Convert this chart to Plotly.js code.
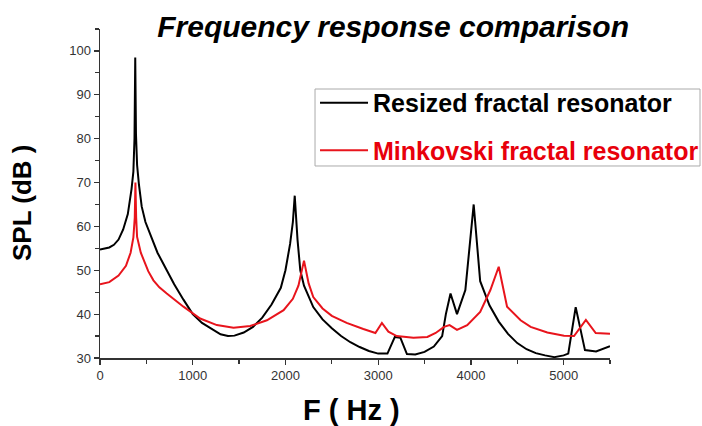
<!DOCTYPE html>
<html>
<head>
<meta charset="utf-8">
<script src="https://cdn.plot.ly/plotly-3.0.1.min.js"></script>
<style>html,body{margin:0;padding:0;background:#fff;}#chart{width:702px;height:426px;}</style>
</head>
<body>
<div id="chart"></div>
<script>
// Resized fractal resonator (black)
var resizedF = [0, 100, 150, 200, 250, 300, 340, 360, 372, 380, 388, 400, 420, 450, 490, 540, 620, 720, 800, 900, 1000, 1100, 1200, 1300, 1380, 1450, 1550, 1650, 1750, 1850, 1950, 2000, 2050, 2080, 2100, 2130, 2160, 2200, 2300, 2400, 2500, 2600, 2700, 2800, 2900, 3000, 3100, 3180, 3240, 3310, 3400, 3500, 3600, 3690, 3730, 3780, 3850, 3940, 4030, 4100, 4200, 4300, 4400, 4500, 4600, 4700, 4800, 4900, 5000, 5050, 5130, 5230, 5350, 5500];
var resizedSPL = [54.7, 55.2, 55.8, 57, 59.3, 62.8, 68.5, 72.5, 80, 98.5, 81, 74, 69.5, 64.5, 61, 58.2, 54, 50, 46.8, 43.3, 40, 38, 36.6, 35.4, 35, 35.1, 35.8, 37.1, 39.2, 42.2, 46, 50, 56, 61, 67, 57, 50, 46.5, 41.6, 38.8, 36.8, 35, 33.6, 32.5, 31.6, 31.0, 31.0, 34.8, 34.6, 30.9, 30.8, 31.4, 32.6, 35, 40, 44.7, 40, 45.5, 65, 47.5, 42, 38.3, 35.5, 33.4, 32, 31.1, 30.6, 30.2, 30.6, 31, 41.6, 31.8, 31.5, 32.7];

// Minkovski fractal resonator (red)
var minkF = [0, 100, 200, 280, 330, 360, 375, 382, 390, 400, 440, 470, 520, 576, 640, 720, 900, 1080, 1260, 1440, 1620, 1800, 1980, 2080, 2140, 2200, 2250, 2300, 2400, 2500, 2660, 2840, 2970, 3040, 3110, 3200, 3380, 3530, 3620, 3710, 3770, 3850, 3960, 4100, 4210, 4300, 4390, 4536, 4644, 4824, 5004, 5112, 5240, 5346, 5464, 5500];
var minkSPL = [46.8, 47.3, 48.8, 51, 54, 57.5, 62, 70, 62, 57.6, 54, 52.3, 49.8, 47.7, 46.1, 44.7, 41.7, 39, 37.5, 36.9, 37.3, 38.6, 40.9, 43.5, 46.5, 52.2, 47, 43.9, 41.3, 39.6, 38, 36.6, 35.7, 38, 36, 35, 34.6, 34.8, 35.7, 37.1, 37.5, 36.4, 37.5, 40.5, 45.5, 50.8, 41.7, 38.6, 37.1, 35.8, 35.1, 35, 38.7, 35.7, 35.5, 35.5];

var xTicks = [0, 1000, 2000, 3000, 4000, 5000];
var yTicks = [30, 40, 50, 60, 70, 80, 90, 100];

var FONT = "Liberation Sans, Arial, sans-serif";

var traces = [
  {x: resizedF, y: resizedSPL, type: 'scatter', mode: 'lines', name: '<b>Resized fractal resonator</b>',
   line: {color: '#000000', width: 2}, legendgroup: 'a'},
  {x: minkF, y: minkSPL, type: 'scatter', mode: 'lines', name: '<span style="color:#e8000b"><b>Minkovski fractal resonator</b></span>',
   line: {color: '#e8141c', width: 2}, legendgroup: 'b'}
];

var axisCommon = {
  showline: true, linecolor: '#333', linewidth: 1.5, ticks: 'outside', ticklen: 5, tickwidth: 1.2,
  tickcolor: '#333', showgrid: false, zeroline: false,
  tickfont: {family: FONT, size: 13, color: '#333'}
};

var layout = {
  width: 702, height: 426,
  paper_bgcolor: '#ffffff', plot_bgcolor: '#ffffff',
  margin: {l: 100, r: 92, t: 29, b: 68, autoexpand: false},
  showlegend: true,
  title: {text: 'Frequency response comparison', x: 0.56, xref: 'container', xanchor: 'center',
          y: 0.937, yref: 'container', yanchor: 'middle',
          font: {family: FONT, size: 30, color: '#000', weight: 'bold', style: 'italic'}},
  xaxis: Object.assign({}, axisCommon, {range: [0, 5500], tickvals: xTicks, ticktext: xTicks.map(String),
          minor: {dtick: 500, tick0: 0, ticks: 'outside', ticklen: 4, tickcolor: '#333'}}),
  yaxis: Object.assign({}, axisCommon, {range: [30, 105], tickvals: yTicks, ticktext: yTicks.map(String),
          minor: {dtick: 5, tick0: 30, ticks: 'outside', ticklen: 4, tickcolor: '#333'}}),
  legend: {x: 0.4216, y: 0.845, xanchor: 'left', yanchor: 'top', bgcolor: 'rgba(255,255,255,0)',
           borderwidth: 0, tracegroupgap: 12, itemwidth: 48,
           font: {family: FONT, size: 25, color: '#000'}},
  shapes: [
    {type: 'rect', xref: 'paper', yref: 'paper', x0: 0.4216, x1: 1.1765, y0: 0.5836, y1: 0.8176,
     line: {color: '#aaaaaa', width: 1}, fillcolor: 'rgba(0,0,0,0)', layer: 'above'}
  ],
  annotations: [
    {text: '<b>SPL (dB )</b>', xref: 'paper', yref: 'paper', x: -0.153, y: 0.474, textangle: -90,
     showarrow: false, xanchor: 'center', yanchor: 'middle', font: {family: FONT, size: 26, color: '#000'}},
    {text: '<b>F ( Hz )</b>', xref: 'paper', yref: 'paper', x: 0.494, y: -0.158,
     showarrow: false, xanchor: 'center', yanchor: 'middle', font: {family: FONT, size: 29, color: '#000'}}
  ]
};

Plotly.newPlot('chart', traces, layout, {displayModeBar: false, staticPlot: true});
</script>
</body>
</html>
